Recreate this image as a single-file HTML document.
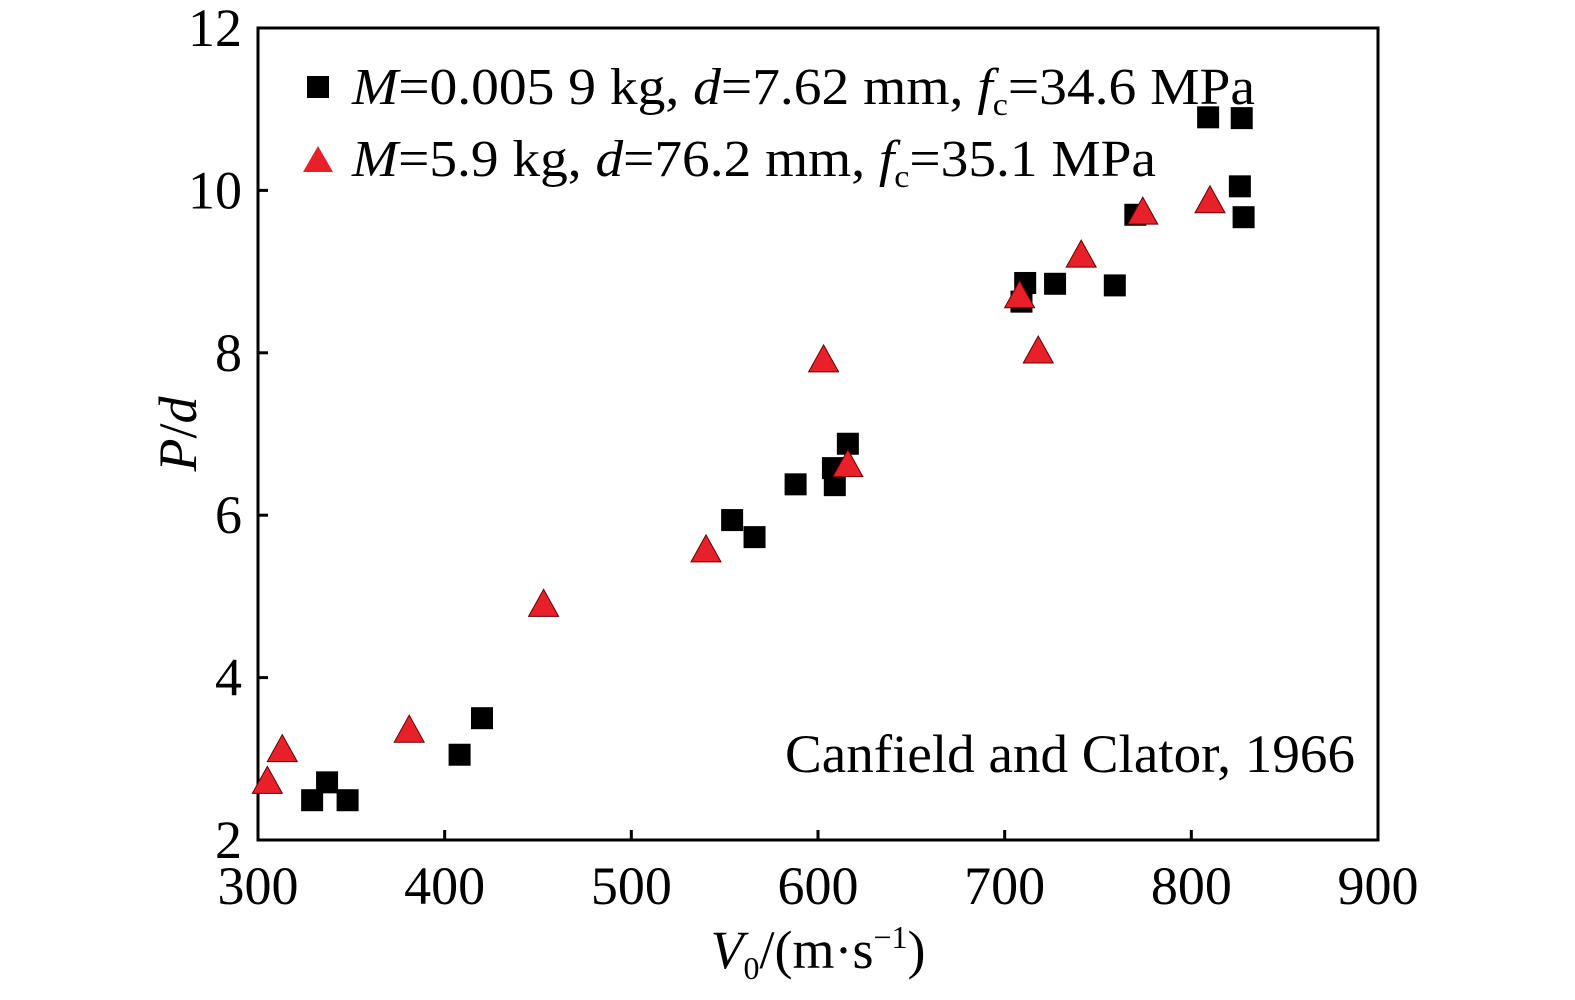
<!DOCTYPE html>
<html><head><meta charset="utf-8"><style>
body{margin:0;background:#fff}
svg{display:block;font-family:"Liberation Serif",serif}
</style></head><body>
<svg width="1575" height="1000" viewBox="0 0 1575 1000">
<g id="axes"></g><g id="marks"></g><g id="legend"></g>
</svg>
<script>
const xTicks=[300,400,500,600,700,800,900];
const yTicks=[2,4,6,8,10,12];
const sqX=[329,337,348,408,420,554,566,588,609,608,616,709,711,727,759,770,809,827,826,828];
const sqY=[2.49,2.71,2.49,3.05,3.50,5.94,5.73,6.38,6.37,6.58,6.88,8.63,8.86,8.85,8.83,9.70,10.90,10.89,10.05,9.67];
const trX=[305,313,381,453,540,603,616,708,718,741,774,810];
const trY=[2.71,3.10,3.34,4.89,5.56,7.90,6.61,8.69,8.01,9.19,9.72,9.86];
const L=258,R=1378,T=28,B=840;
const sx=v=>L+(v-300)/600*(R-L);
const sy=v=>B-(v-2)/10*(B-T);
const NS="http://www.w3.org/2000/svg";
function mk(tag,attrs,parent,text){const e=document.createElementNS(NS,tag);for(const k in attrs)e.setAttribute(k,attrs[k]);if(text!==undefined)e.textContent=text;parent.appendChild(e);return e;}
const ax=document.getElementById('axes');
const frame=mk('rect',{x:L,y:T,width:R-L,height:B-T,fill:'none',stroke:'#000','stroke-width':3},ax);


xTicks.forEach(v=>{
 const t=mk('line',{x1:sx(v),x2:sx(v),y1:B,y2:B-10,stroke:'#000','stroke-width':3},ax);
 
 
 const l=mk('text',{x:sx(v),y:904,'font-size':54,'text-anchor':'middle'},ax,v);
 
 
});
yTicks.forEach(v=>{
 const t=mk('line',{x1:L,x2:L+10,y1:sy(v),y2:sy(v),stroke:'#000','stroke-width':3},ax);
 
 
 const l=mk('text',{x:242,y:sy(v)+18,'font-size':54,'text-anchor':'end'},ax,v);
 
 
});
const mg=document.getElementById('marks');
sqX.forEach((v,i)=>{
 const r=mk('rect',{x:sx(v)-11,y:sy(sqY[i])-11,width:22,height:22,fill:'#000'},mg);
 
 
});
trX.forEach((v,i)=>{
 const cx=sx(v),cy=sy(trY[i]);
 const p=mk('polygon',{points:`${cx},${cy-16} ${cx-15},${cy+11} ${cx+15},${cy+11}`,fill:'#e8202a',stroke:'#600','stroke-width':1},mg);
 
 
});
</script>
<svg style="position:absolute;left:0;top:0" width="1575" height="1000">
<g font-family="Liberation Serif, serif">
<rect x="307" y="76" width="22" height="22" fill="#000"/>
<text x="352" y="104" font-size="52" textLength="903" lengthAdjust="spacingAndGlyphs"><tspan font-style="italic">M</tspan>=0.005 9 kg, <tspan font-style="italic">d</tspan>=7.62 mm, <tspan font-style="italic">f</tspan><tspan font-size="32" dy="11">c</tspan><tspan dy="-11">=34.6 MPa</tspan></text>
<polygon points="318,146 303,172 333,172" fill="#e8202a"/>
<text x="352" y="176" font-size="52" textLength="804" lengthAdjust="spacingAndGlyphs"><tspan font-style="italic">M</tspan>=5.9 kg, <tspan font-style="italic">d</tspan>=76.2 mm, <tspan font-style="italic">f</tspan><tspan font-size="32" dy="11">c</tspan><tspan dy="-11">=35.1 MPa</tspan></text>
</g>
<text x="785" y="772" font-size="54" textLength="570" lengthAdjust="spacingAndGlyphs" font-family="Liberation Serif, serif">Canfield and Clator, 1966</text>
<text x="818" y="968" font-size="54" text-anchor="middle" font-family="Liberation Serif, serif"><tspan font-style="italic">V</tspan><tspan font-size="32" dy="11">0</tspan><tspan dy="-11">/(m·s</tspan><tspan font-size="32" dy="-20">−1</tspan><tspan dy="20">)</tspan></text>
<text transform="translate(196,434) rotate(-90)" font-size="54" text-anchor="middle" font-family="Liberation Serif, serif"><tspan font-style="italic">P</tspan>/<tspan font-style="italic">d</tspan></text>
</svg>
</body></html>
